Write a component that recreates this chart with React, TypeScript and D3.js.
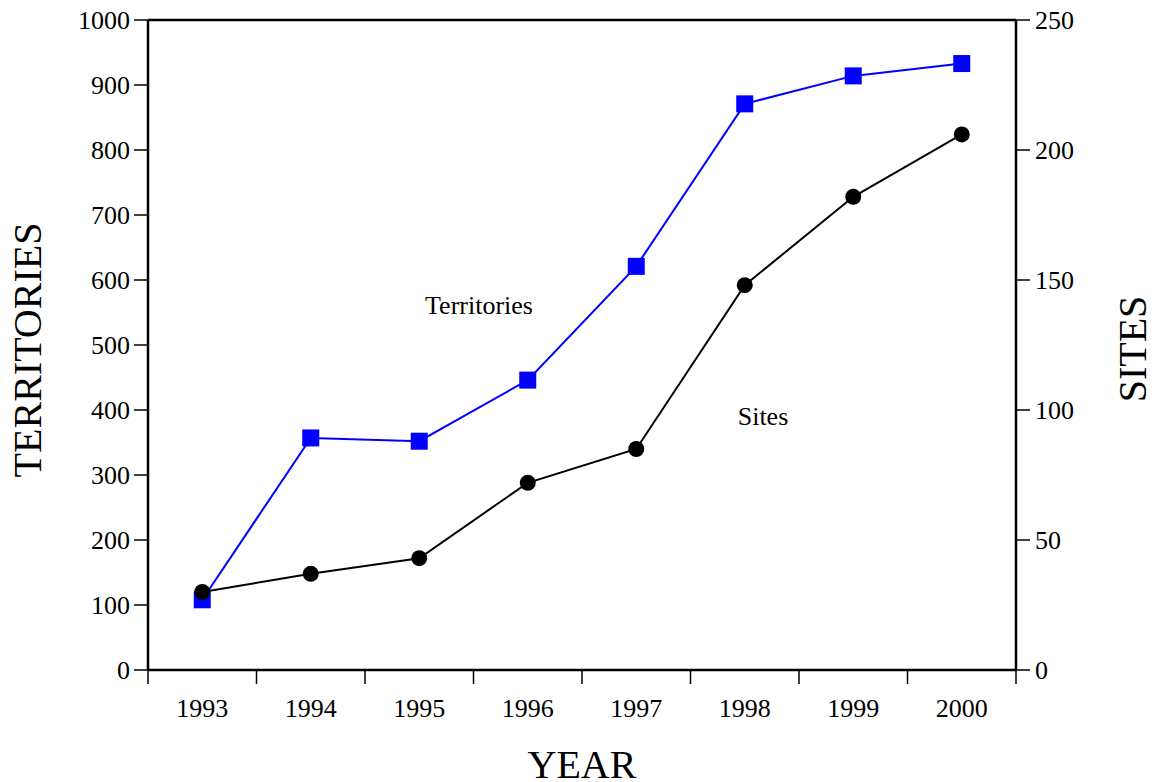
import React from "react";
import * as d3 from "d3";

const years = ["1993", "1994", "1995", "1996", "1997", "1998", "1999", "2000"];
const territories = [108, 357, 352, 446, 621, 871, 914, 933];
const sites = [30, 37, 43, 72, 85, 148, 182, 206];
const leftTicks = [0, 100, 200, 300, 400, 500, 600, 700, 800, 900, 1000];
const rightTicks = [0, 50, 100, 150, 200, 250];

const W = 1154;
const H = 782;
const M = { left: 148, right: 1016, top: 20, bottom: 670 };
const FONT = "'Liberation Serif', 'Times New Roman', serif";

export default function App() {
  const x = d3.scaleBand<string>().domain(years).range([M.left, M.right]);
  const yL = d3.scaleLinear().domain([0, 1000]).range([M.bottom, M.top]);
  const yR = d3.scaleLinear().domain([0, 250]).range([M.bottom, M.top]);
  const cx = (y: string) => (x(y) ?? 0) + x.bandwidth() / 2;

  const terrLine = d3
    .line<number>()
    .x((_, i) => cx(years[i]))
    .y((d) => yL(d))(territories);
  const siteLine = d3
    .line<number>()
    .x((_, i) => cx(years[i]))
    .y((d) => yR(d))(sites);

  const bandEdges = years.map((y) => x(y) ?? 0).concat([M.right]);

  return (
    <svg
      width={W}
      height={H}
      style={{ position: "absolute", left: 0, top: 0, background: "#fff" }}
      fontFamily={FONT}
    >
      {/* frame: top, left, right and bottom axes */}
      <line x1={M.left} x2={M.right} y1={M.top} y2={M.top} stroke="#000" strokeWidth={2.5} />
      <line x1={M.left} x2={M.right} y1={M.bottom} y2={M.bottom} stroke="#000" strokeWidth={2.5} />
      <line x1={M.left} x2={M.left} y1={M.top} y2={M.bottom} stroke="#000" strokeWidth={2.5} />
      <line x1={M.right} x2={M.right} y1={M.top} y2={M.bottom} stroke="#000" strokeWidth={2.5} />

      {/* left axis */}
      {leftTicks.map((t) => (
        <g key={"l" + t}>
          <line x1={M.left - 14} x2={M.left} y1={yL(t)} y2={yL(t)} stroke="#000" strokeWidth={1.5} />
          <text x={M.left - 18} y={yL(t)} dy="0.34em" textAnchor="end" fontSize={26}>
            {t}
          </text>
        </g>
      ))}

      {/* right axis */}
      {rightTicks.map((t) => (
        <g key={"r" + t}>
          <line x1={M.right} x2={M.right + 14} y1={yR(t)} y2={yR(t)} stroke="#000" strokeWidth={1.5} />
          <text x={M.right + 19} y={yR(t)} dy="0.34em" textAnchor="start" fontSize={26}>
            {t}
          </text>
        </g>
      ))}

      {/* x axis ticks at band edges, labels centered */}
      {bandEdges.map((e, i) => (
        <line key={"xt" + i} x1={e} x2={e} y1={M.bottom} y2={M.bottom + 14} stroke="#000" strokeWidth={1.5} />
      ))}
      {years.map((y) => (
        <text key={"xl" + y} x={cx(y)} y={717} textAnchor="middle" fontSize={26}>
          {y}
        </text>
      ))}

      {/* axis titles */}
      <text x={582} y={778} textAnchor="middle" fontSize={40}>
        YEAR
      </text>
      <text transform="translate(41, 350) rotate(-90)" textAnchor="middle" fontSize={40}>
        TERRITORIES
      </text>
      <text transform="translate(1146, 349) rotate(-90)" textAnchor="middle" fontSize={40}>
        SITES
      </text>

      {/* series */}
      <path d={terrLine ?? ""} fill="none" stroke="#0000ff" strokeWidth={2} />
      {territories.map((v, i) => (
        <rect
          key={"tq" + i}
          x={cx(years[i]) - 8.5}
          y={yL(v) - 8.5}
          width={17}
          height={17}
          fill="#0000ff"
        />
      ))}
      <path d={siteLine ?? ""} fill="none" stroke="#000" strokeWidth={2} />
      {sites.map((v, i) => (
        <circle key={"sc" + i} cx={cx(years[i])} cy={yR(v)} r={8} fill="#000" />
      ))}

      {/* series labels */}
      <text x={479} y={314} textAnchor="middle" fontSize={26}>
        Territories
      </text>
      <text x={763} y={425} textAnchor="middle" fontSize={26}>
        Sites
      </text>
    </svg>
  );
}
